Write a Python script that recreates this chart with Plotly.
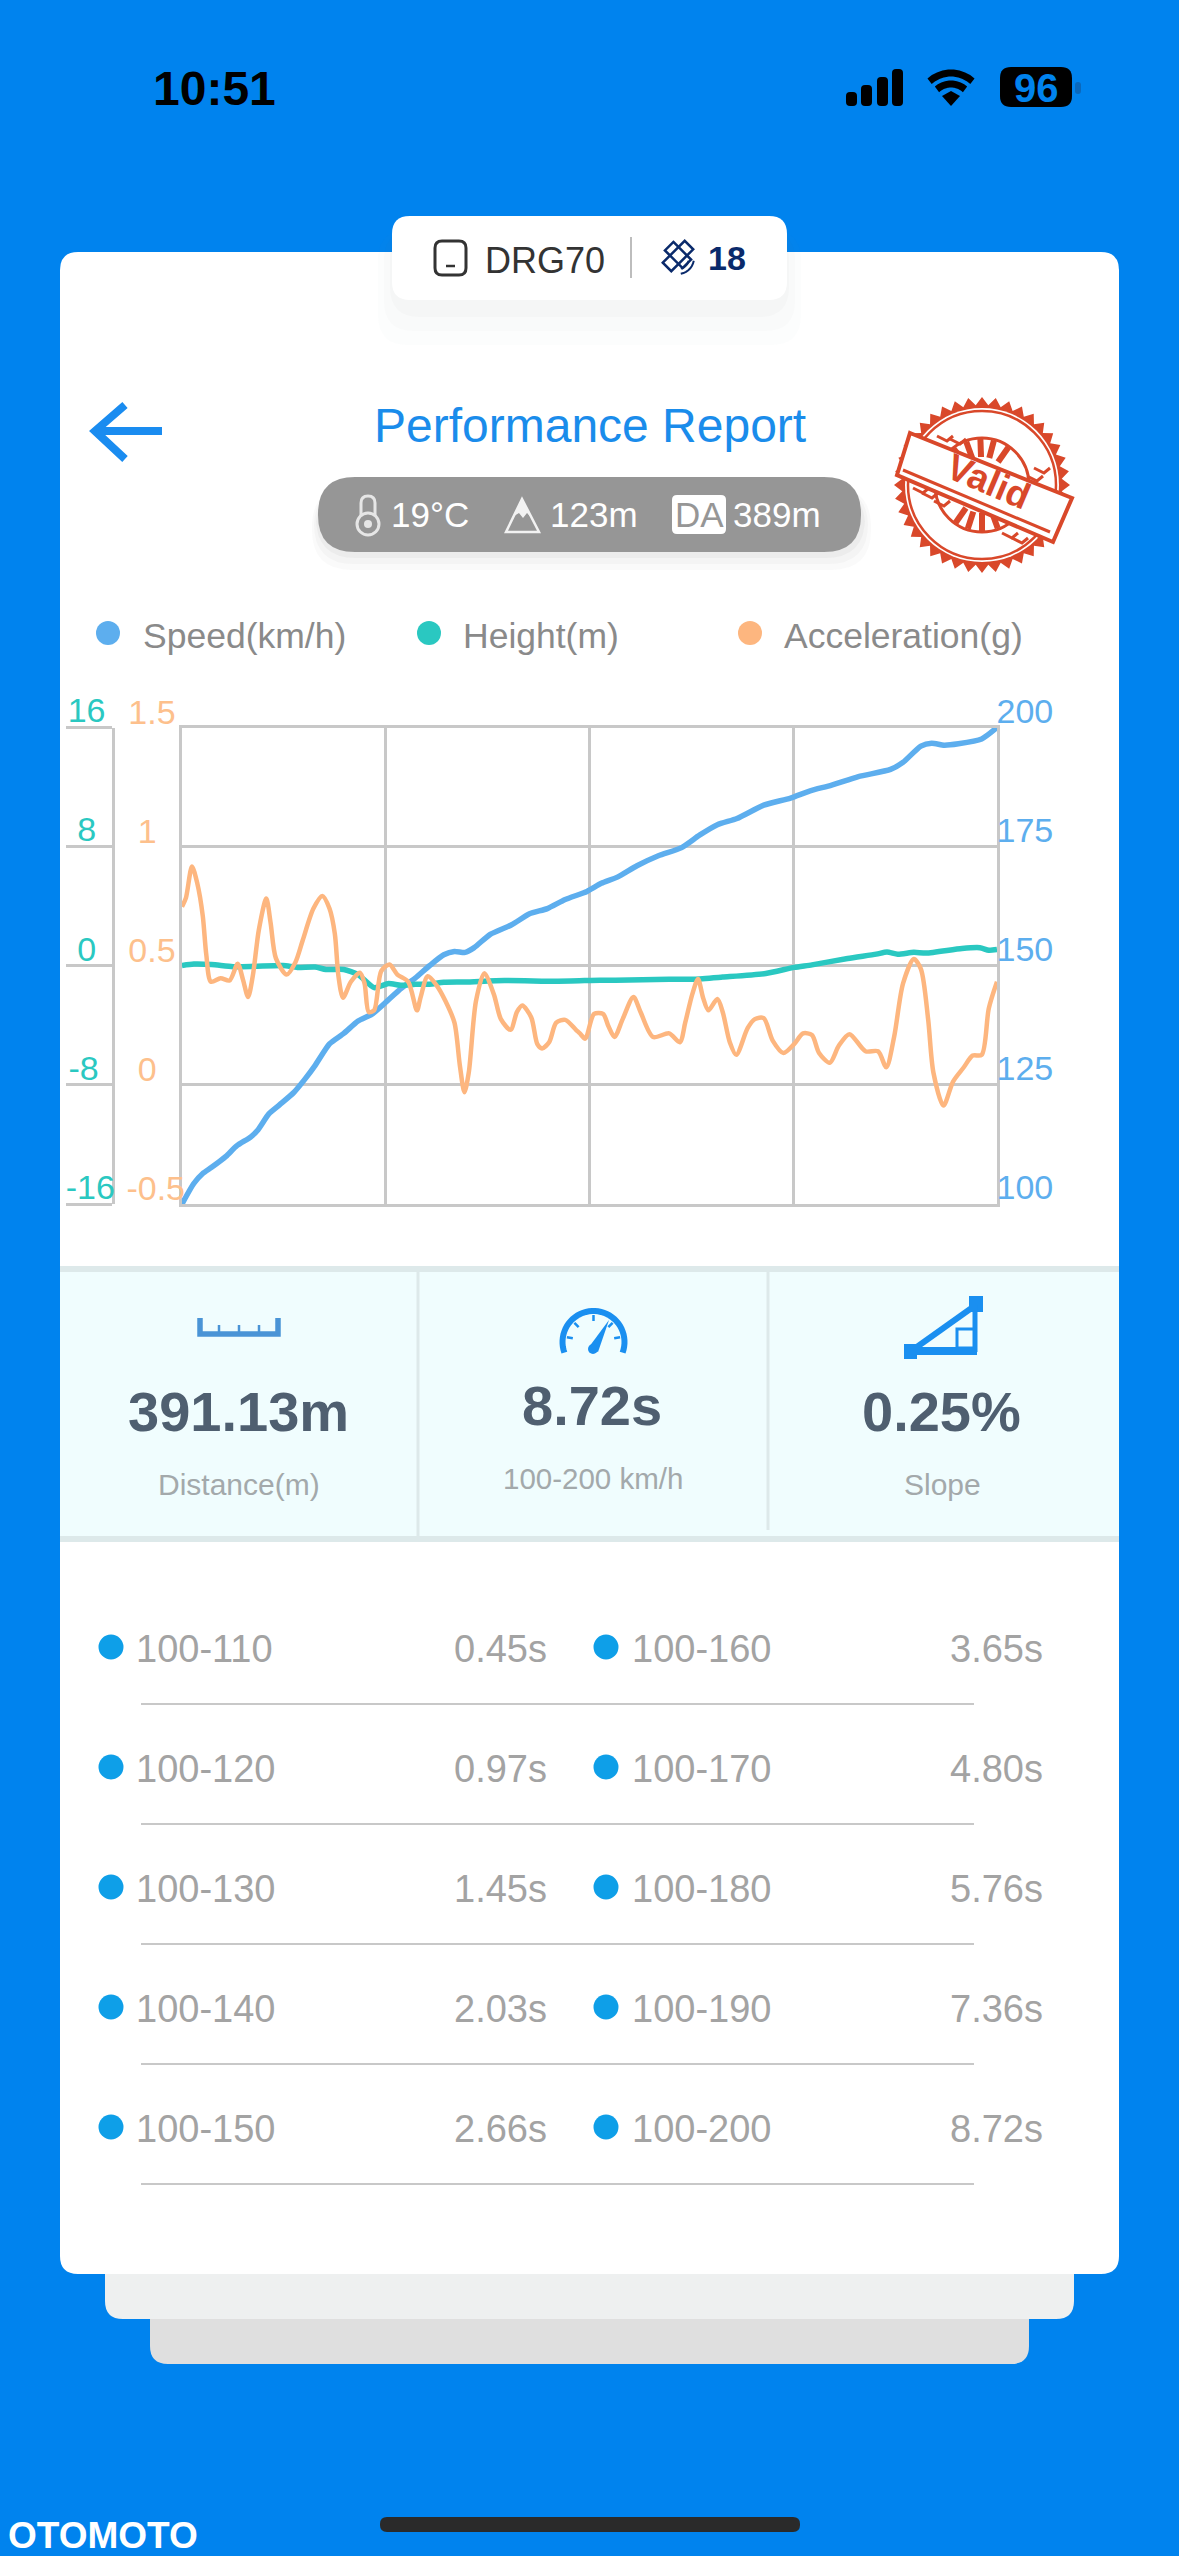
import numpy as np
import plotly.graph_objects as go

W, H = 1179, 2556

# --- chart data ---
speed_t = [0, 0.126, 0.222, 0.317, 0.47, 0.585, 0.737, 0.814, 0.929, 1.043, 1.196, 1.311, 1.425, 1.578, 1.731,
           1.884, 2.037, 2.189, 2.342, 2.495, 2.648, 2.801, 2.915, 3.03, 3.126, 3.298, 3.527, 3.718, 3.909, 4.1,
           4.333, 4.486, 4.658, 4.868, 5.097, 5.346, 5.537, 5.728, 5.938, 6.224, 6.511, 6.721, 6.951, 7.237,
           7.581, 7.715, 7.906, 8.021, 8.155, 8.307, 8.556, 8.72]
speed = [100, 104.3, 106.4, 107.7, 110, 112.2, 114.1, 115.6, 118.9, 120.8, 123.4, 126.1, 129.1, 133.6, 135.8,
         138.4, 139.9, 142.5, 145.2, 147.4, 150, 152.3, 153, 152.8, 153.8, 156.6, 158.6, 160.9, 162, 163.9,
         165.6, 167.3, 168.6, 171, 173.1, 174.8, 177.4, 179.6, 180.9, 183.7, 185.2, 186.7, 187.9, 189.7,
         191.2, 192.7, 196.1, 196.7, 196.3, 196.6, 197.6, 200]

height_t = [0, 0.126, 0.317, 0.546, 0.776, 1.081, 1.234, 1.425, 1.54, 1.731, 1.884, 2.056, 2.209, 2.342, 2.495,
            2.648, 2.801, 3.03, 3.45, 4.023, 4.474, 4.639, 5.211, 5.479, 5.785, 6.245, 6.549, 6.74, 7.122, 7.428,
            7.543, 7.658, 7.83, 7.963, 8.345, 8.537, 8.632, 8.72]
height = [0.01, 0.11, 0.08, -0.06, -0.04, 0.01, -0.11, -0.08, -0.25, -0.25, -0.59, -1.47, -1.19, -1.31, -1.24,
          -1.24, -1.11, -1.09, -0.99, -1.04, -0.97, -0.97, -0.9, -0.9, -0.76, -0.52, -0.11, 0.06, 0.49, 0.78,
          0.92, 0.78, 0.9, 0.85, 1.16, 1.21, 1.04, 1.09]

accel_t = [0, 0.042, 0.107, 0.164, 0.222, 0.26, 0.31, 0.413, 0.508, 0.596, 0.653, 0.707, 0.757, 0.822, 0.902,
           0.948, 1.005, 1.12, 1.215, 1.291, 1.406, 1.502, 1.578, 1.635, 1.674, 1.723, 1.807, 1.903, 1.953,
           1.998, 2.056, 2.132, 2.22, 2.304, 2.419, 2.514, 2.552, 2.629, 2.724, 2.82, 2.915, 2.973, 3.022,
           3.068, 3.145, 3.233, 3.336, 3.412, 3.515, 3.584, 3.641, 3.737, 3.802, 3.852, 3.928, 4.004, 4.1,
           4.215, 4.257, 4.314, 4.409, 4.505, 4.563, 4.627, 4.715, 4.83, 4.906, 5.04, 5.212, 5.326, 5.384,
           5.46, 5.521, 5.575, 5.632, 5.728, 5.785, 5.861, 5.93, 6.053, 6.129, 6.224, 6.32, 6.435, 6.549,
           6.645, 6.74, 6.816, 6.931, 7.027, 7.141, 7.313, 7.447, 7.535, 7.619, 7.715, 7.83, 7.906, 7.983,
           8.04, 8.147, 8.25, 8.365, 8.46, 8.556, 8.632, 8.72]
accel = [0.748, 0.785, 0.917, 0.845, 0.71, 0.546, 0.433, 0.448, 0.438, 0.508, 0.441, 0.369, 0.456, 0.65, 0.782,
         0.68, 0.531, 0.463, 0.516, 0.606, 0.74, 0.793, 0.74, 0.635, 0.456, 0.366, 0.433, 0.471, 0.426,
         0.306, 0.313, 0.478, 0.505, 0.463, 0.433, 0.313, 0.366, 0.456, 0.418, 0.351, 0.261, 0.081, -0.031,
         0.051, 0.351, 0.468, 0.381, 0.276, 0.231, 0.306, 0.333, 0.283, 0.171, 0.153, 0.179, 0.261, 0.273,
         0.231, 0.216, 0.194, 0.298, 0.298, 0.246, 0.201, 0.276, 0.369, 0.306, 0.201, 0.216, 0.179, 0.261,
         0.381, 0.444, 0.366, 0.313, 0.361, 0.306, 0.179, 0.126, 0.239, 0.276, 0.28, 0.186, 0.134, 0.171,
         0.216, 0.209, 0.134, 0.093, 0.164, 0.213, 0.141, 0.141, 0.074, 0.201, 0.426, 0.528, 0.486, 0.276,
         0.051, -0.087, 0.014, 0.074, 0.123, 0.126, 0.321, 0.433]

speed_ticks = [100, 125, 150, 175, 200]
height_ticks = [-16, -8, 0, 8, 16]
height_labels = ['-16', '-8\u00a0\u2009', '0\u00a0\u00a0', '8\u00a0\u00a0', '16\u00a0']
accel_ticks = [-0.5, 0, 0.5, 1, 1.5]
accel_labels = ['-0.5', '0\u00a0\u00a0\u00a0', '0.5\u00a0', '1\u00a0\u00a0\u00a0', '1.5\u00a0']
time_grid = [0, 2.18, 4.36, 6.54, 8.72]

split_left = ['100-110', '100-120', '100-130', '100-140', '100-150']
split_left_times = ['0.45s', '0.97s', '1.45s', '2.03s', '2.66s']
split_right = ['100-160', '100-170', '100-180', '100-190', '100-200']
split_right_times = ['3.65s', '4.80s', '5.76s', '7.36s', '8.72s']

BLUE = '#0083EE'
SPEED_C = '#5DAEEE'
HEIGHT_C = '#2AC8C1'
ACCEL_C = '#FDB67F'
GRID_C = '#C8C8C8'
FONT = 'Liberation Sans'
RED = '#D9482A'
NAVY = '#0A2A6B'


def X(x):
    return x / W


def Y(y):
    return 1 - y / H


shapes = []
annots = []


def add_path(d, fill=None, line=None, lw=0):
    s = dict(type='path', path=d, xref='paper', yref='paper', layer='below', line=dict(width=lw, color=line or 'rgba(0,0,0,0)'))
    if fill:
        s['fillcolor'] = fill
    shapes.append(s)


def poly(pts, close=True):
    d = 'M' + ' L'.join(f'{X(a):.5f},{Y(b):.5f}' for a, b in pts)
    return d + (' Z' if close else '')


def rrect(x0, y0, x1, y1, r, fill=None, line=None, lw=0):
    def p(a, b):
        return f'{X(a):.5f},{Y(b):.5f}'
    d = (f'M{p(x0 + r, y0)} L{p(x1 - r, y0)} Q{p(x1, y0)} {p(x1, y0 + r)} L{p(x1, y1 - r)} Q{p(x1, y1)} {p(x1 - r, y1)} '
         f'L{p(x0 + r, y1)} Q{p(x0, y1)} {p(x0, y1 - r)} L{p(x0, y0 + r)} Q{p(x0, y0)} {p(x0 + r, y0)} Z')
    add_path(d, fill, line, lw)


def circle(cx, cy, r, fill=None, line=None, lw=0):
    s = dict(type='circle', xref='paper', yref='paper', layer='below', x0=X(cx - r), x1=X(cx + r), y0=Y(cy + r), y1=Y(cy - r),
             line=dict(width=lw, color=line or 'rgba(0,0,0,0)'))
    if fill:
        s['fillcolor'] = fill
    shapes.append(s)


def seg(pts, color, lw):
    add_path(poly(pts, close=False), None, color, lw)


def arc(cx, cy, r, a0, a1, n=24):
    # angles in degrees, 0 = right, 90 = up
    return [(cx + r * np.cos(np.radians(a)), cy - r * np.sin(np.radians(a))) for a in np.linspace(a0, a1, n)]


def bar(cx, cy, length, width, angle):
    # rotated rectangle corners, used by the satellite icon
    c, s = np.cos(np.radians(angle)), np.sin(np.radians(angle))
    return [(cx + u * c - v * s, cy + u * s + v * c) for u, v in
            [(-length / 2, -width / 2), (length / 2, -width / 2), (length / 2, width / 2), (-length / 2, width / 2)]]


def txt(x, y, text, size, color, anchor='center', bold=False, angle=0):
    annots.append(dict(x=X(x), y=Y(y), xref='paper', yref='paper', text=f'<b>{text}</b>' if bold else text, showarrow=False,
                       xanchor=anchor, yanchor='middle', textangle=angle, font=dict(family=FONT, size=size, color=color)))


# --- cards ---
rrect(150, 2300, 1029, 2364, 18, '#DFDFDF')
rrect(105, 2250, 1074, 2319, 18, '#EEF0F0')
rrect(60, 252, 1119, 2274, 18, '#FFFFFF')

# device pill with soft shadow
for i, a in enumerate([0.02, 0.025, 0.03]):
    rrect(392 - 14 + i * 6, 230, 787 + 14 - i * 6, 345 - i * 14, 30, f'rgba(120,130,140,{a})')
rrect(392, 216, 787, 300, 18, '#FFFFFF')
rrect(435, 241, 466, 275, 7, None, '#333333', 3)
seg([(446, 266), (455, 266)], '#333333', 2.5)
txt(545, 261, 'DRG70', 36, '#333333')
seg([(631, 237), (631, 278)], '#BDBDBD', 2)
add_path(poly(bar(678, 255, 25, 12, 45)), None, NAVY, 2.5)
add_path(poly(bar(678, 256, 31, 12, -45)), None, NAVY, 2.5)
seg(arc(678, 258, 11, -75, -15, 8), NAVY, 2)
seg(arc(678, 258, 16, -80, -10, 8), NAVY, 2)
txt(727, 258, '18', 34, NAVY, bold=True)

# back arrow and title
seg([(125, 405), (95, 431), (125, 459)], '#1A8CF0', 8)
seg([(97, 431), (162, 431)], '#1A8CF0', 8)
txt(590, 425, 'Performance Report', 48, '#1A8CEB')

# conditions pill
for i, a in enumerate([0.03, 0.04, 0.05]):
    rrect(318 - 6 + i * 2, 487, 861 + 10 - i * 3, 570 - i * 6, 40, f'rgba(90,90,90,{a})')
rrect(318, 477, 861, 552, 37, '#969696')
rrect(361, 496, 375, 525, 7, None, '#E6E6E6', 3)
circle(368, 524, 11, '#969696', '#E6E6E6', 3)
circle(368, 524, 4, '#E6E6E6')
txt(430, 515, '19°C', 35, '#FFFFFF')
add_path(poly([(522, 499), (506, 532), (539, 532)]), None, '#F2F2F2', 2.5)
add_path(poly([(522, 499), (514, 516), (519, 513), (523, 518), (527, 513), (531, 517)]), '#F2F2F2')
txt(594, 515, '123m', 35, '#FFFFFF')
rrect(672, 495, 726, 534, 5, '#FFFFFF')
txt(699, 515, 'DA', 35, '#969696')
txt(777, 515, '389m', 35, '#FFFFFF')

# stamp
cx, cy = 982, 485
angles = np.linspace(0, 2 * np.pi, 80, endpoint=False)
teeth = [(cx + (88 if i % 2 == 0 else 80) * np.cos(a), cy + (88 if i % 2 == 0 else 80) * np.sin(a)) for i, a in enumerate(angles)]
add_path(poly(teeth), RED)
circle(cx, cy, 77, '#FFFFFF')
circle(cx, cy, 74, None, RED, 2.5)
circle(cx, cy, 47, None, RED, 3)
for a in [55, 75, 92, 110, 128, 235, 252, 270, 290, 308]:
    seg([(cx + 28 * np.cos(np.radians(a)), cy - 28 * np.sin(np.radians(a))),
         (cx + 46 * np.cos(np.radians(a)), cy - 46 * np.sin(np.radians(a)))], RED, 6)
for sx, sy in [(930, 495), (942, 503), (921, 490), (1035, 478), (1042, 470), (1010, 535), (1020, 540), (945, 438), (958, 441)]:
    seg([(sx - 8, sy - 2), (sx + 2, sy + 3), (sx + 8, sy - 2)], RED, 3)
add_path(poly([(910, 433), (1072, 498), (1053, 542), (897, 475)]), '#FFFFFF', RED, 4)
seg([(903, 470), (1050, 532)], RED, 3)
txt(988, 482, 'Valid', 37, RED, bold=True, angle=23)

# legend row
for lx, tx, col, label in [(108, 141, SPEED_C, 'Speed(km/h)'), (429, 461, HEIGHT_C, 'Height(m)'), (750, 782, ACCEL_C, 'Acceleration(g)')]:
    circle(lx, 633, 12, col)
    txt(tx, 636, label, 35.5, '#8A8A8A', anchor='left')

# stats panel
add_path(poly([(60, 1266), (1119, 1266), (1119, 1542), (60, 1542)]), '#DDE9EA')
add_path(poly([(60, 1272), (1119, 1272), (1119, 1536), (60, 1536)]), '#F0FDFE')
seg([(418, 1272), (418, 1536)], '#DDE9EA', 3)
seg([(768, 1272), (768, 1530)], '#DDE9EA', 3)

# ruler icon
seg([(200, 1318), (200, 1334), (278, 1334), (278, 1318)], '#4A94D6', 5.5)
for rx in [219, 239, 259]:
    seg([(rx, 1325), (rx, 1333)], '#4A94D6', 2.5)
# speedometer icon
seg(arc(593.5, 1342, 31, -20, 200, 40), '#1A8FF0', 6)
for a in [10, 45, 90, 135, 170]:
    seg([(593.5 + 27 * np.cos(np.radians(a)), 1342 - 27 * np.sin(np.radians(a))),
         (593.5 + 21 * np.cos(np.radians(a)), 1342 - 21 * np.sin(np.radians(a)))], '#1A8FF0', 2.5)
add_path(poly([(589, 1347), (609, 1320), (598, 1352)]), '#1A8FF0')
circle(593, 1349, 5, '#1A8FF0')
# slope icon
S_C = '#1A8FF0'
add_path(poly([(904, 1344), (917, 1344), (917, 1359), (904, 1359)]), S_C)
seg([(904, 1351), (977, 1351)], S_C, 8)
seg([(914, 1349), (973, 1307)], S_C, 6)
add_path(poly([(969, 1296), (983, 1296), (983, 1312), (969, 1312)]), S_C)
seg([(975, 1305), (975, 1352)], S_C, 5)
add_path(poly([(957, 1329), (975, 1329), (975, 1348), (957, 1348)]), None, S_C, 3)

txt(238.5, 1411, '391.13m', 56, '#4F5F70', bold=True)
txt(592, 1405, '8.72s', 56, '#4F5F70', bold=True)
txt(941, 1411, '0.25%', 56, '#4F5F70', bold=True)
txt(239, 1484, 'Distance(m)', 30, '#A3A9AB')
txt(593, 1478, '100-200 km/h', 29.5, '#A3A9AB')
txt(942, 1484, 'Slope', 30, '#A3A9AB')

# split times list
for i in range(5):
    ry = 1647 + 120 * i
    circle(111, ry, 12.5, '#0E9FE8')
    circle(606, ry, 12.5, '#0E9FE8')
    txt(134, ry + 2, split_left[i], 38, '#A3A3A3', anchor='left')
    txt(549, ry + 2, split_left_times[i], 38, '#A3A3A3', anchor='right')
    txt(630, ry + 2, split_right[i], 38, '#A3A3A3', anchor='left')
    txt(1045, ry + 2, split_right_times[i], 38, '#A3A3A3', anchor='right')
    seg([(141, ry + 57), (974, ry + 57)], '#C8C8C8', 2)

# status bar
txt(214, 88, '10:51', 48, '#000000', bold=True)
for bx, by in [(846, 92), (861, 85), (877, 77), (892, 69)]:
    rrect(bx, by, bx + 11, 106, 4, '#000000')
add_path(poly([(951, 106), (942, 96), (951, 91), (960, 96)]), '#000000')
seg(arc(951, 105, 21, 48, 132, 10), '#000000', 7)
seg(arc(951, 105, 32, 48, 132, 10), '#000000', 7)
rrect(1000, 67, 1072, 107, 11, '#000000')
txt(1036, 88, '96', 40, BLUE, bold=True)
rrect(1075, 82, 1081, 94, 3, '#0A68BC')

# footer
rrect(380, 2517, 800, 2532, 7, '#2A2A2A')
txt(103, 2535, 'OTOMOTO', 37, '#FFFFFF', bold=True)

# --- the chart ---
dom_x = [X(182), X(997)]
dom_y = [Y(1204), Y(727.5)]
tick_font = 34

fig = go.Figure()
fig.add_trace(go.Scatter(x=height_t, y=height, yaxis='y2', mode='lines', name='Height(m)', line=dict(color=HEIGHT_C, width=5.5, shape='spline', smoothing=0.6), cliponaxis=False))
fig.add_trace(go.Scatter(x=accel_t, y=accel, yaxis='y3', mode='lines', name='Acceleration(g)', line=dict(color=ACCEL_C, width=4.5, shape='spline', smoothing=0.8), cliponaxis=False))
fig.add_trace(go.Scatter(x=speed_t, y=speed, yaxis='y', mode='lines', name='Speed(km/h)', line=dict(color=SPEED_C, width=5.5, shape='spline', smoothing=0.6), cliponaxis=False))

fig.update_layout(
    width=W, height=H,
    margin=dict(l=0, r=0, t=0, b=0, pad=0),
    paper_bgcolor=BLUE,
    plot_bgcolor='rgba(0,0,0,0)',
    showlegend=False,
    font=dict(family=FONT),
    shapes=shapes,
    annotations=annots,
    xaxis=dict(domain=dom_x, range=[0, 8.72], tickvals=time_grid, showticklabels=False, ticks='', showgrid=True, automargin=False,
               gridcolor=GRID_C, gridwidth=2.5, showline=True, linecolor=GRID_C, linewidth=2.5, mirror=True, zeroline=False),
    yaxis=dict(domain=dom_y, range=[100, 200], side='right', tickvals=speed_ticks, ticks='', showgrid=True, gridcolor=GRID_C, gridwidth=2.5, automargin=False,
               ticklabelposition='outside top', ticklabelstandoff=-10, ticklabelshift=7, tickfont=dict(family=FONT, size=tick_font, color=SPEED_C), zeroline=False,
               showline=True, linecolor=GRID_C, linewidth=2.5, mirror=True),
    yaxis2=dict(domain=dom_y, range=[-16, 16], overlaying='y', anchor='free', position=X(112.5), side='left', tickvals=height_ticks, automargin=False,
                ticktext=height_labels, ticks='outside', ticklen=46, tickwidth=2.5, tickcolor=GRID_C, showgrid=False, zeroline=False,
                showline=True, linecolor=GRID_C, linewidth=2.5, ticklabelposition='outside top', ticklabelstandoff=-10, ticklabelshift=8,
                tickfont=dict(family=FONT, size=tick_font, color=HEIGHT_C)),
    yaxis3=dict(domain=dom_y, range=[-0.5, 1.5], overlaying='y', anchor='free', position=X(182), side='left', tickvals=accel_ticks, automargin=False,
                ticktext=accel_labels, ticks='', showgrid=False, zeroline=False, showline=False, ticklabelposition='outside top',
                ticklabelstandoff=-3, ticklabelshift=8, tickfont=dict(family=FONT, size=tick_font, color='#FDC08C')),
)

fig.write_html("out.html", config={'displayModeBar': False}, post_script="document.body.style.margin='0';")
